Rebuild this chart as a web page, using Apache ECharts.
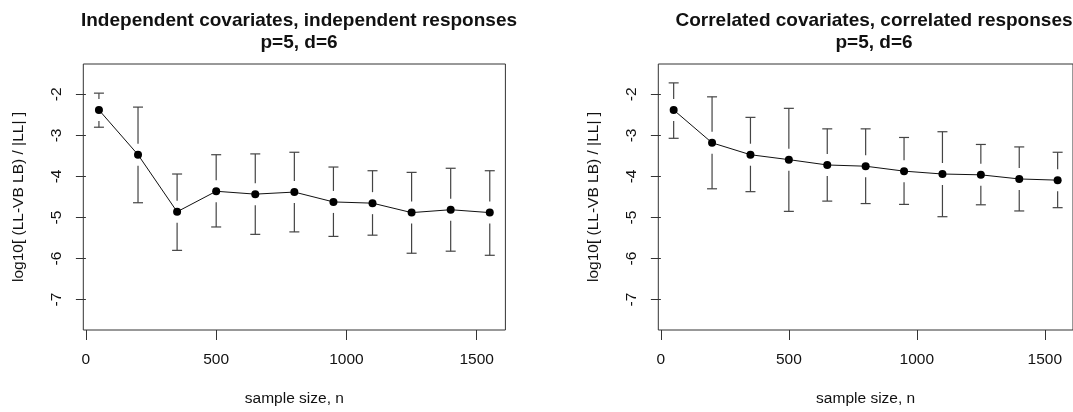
<!DOCTYPE html>
<html>
<head>
<meta charset="utf-8">
<script src="https://cdn.jsdelivr.net/npm/echarts@6/dist/echarts.min.js"></script>
<style>
  html, body { margin: 0; padding: 0; background: #fff; }
  #chart { width: 1073px; height: 412px; }
</style>
</head>
<body>
<div id="chart"></div>
<script>
// ---- data ----
const sampleSizes = [50, 200, 350, 500, 650, 800, 950, 1100, 1250, 1400, 1550];

const leftMean  = [-2.38, -3.47, -4.86, -4.36, -4.43, -4.38, -4.62, -4.65, -4.88, -4.81, -4.88];
const leftUpper = [-1.97, -2.31, -3.94, -3.47, -3.45, -3.41, -3.77, -3.86, -3.90, -3.80, -3.86];
const leftLower = [-2.80, -4.64, -5.80, -5.23, -5.41, -5.35, -5.46, -5.43, -5.87, -5.82, -5.92];

const rightMean  = [-2.38, -3.18, -3.47, -3.59, -3.72, -3.75, -3.87, -3.94, -3.96, -4.06, -4.09];
const rightUpper = [-1.72, -2.06, -2.56, -2.34, -2.84, -2.84, -3.05, -2.91, -3.22, -3.28, -3.41];
const rightLower = [-3.07, -4.30, -4.37, -4.85, -4.60, -4.66, -4.68, -4.98, -4.69, -4.84, -4.76];

const xTicks = [0, 500, 1000, 1500];
const yTicks = [-7, -6, -5, -4, -3, -2];

const titleLeft  = 'Independent covariates, independent responses\np=5, d=6';
const titleRight = 'Correlated covariates, correlated responses\np=5, d=6';
const xTitle = 'sample size, n';
const yTitle = 'log10[ (LL-VB LB) / |LL| ]';

// ---- chart ----
const FONT = '"Liberation Sans", Arial, Helvetica, sans-serif';
const AX_FS = 15.5;
const chart = echarts.init(document.getElementById('chart'), null, { renderer: 'canvas' });

function mkX(gi) {
  return {
    type: 'value', gridIndex: gi, min: -10, max: 1610,
    splitLine: { show: false },
    axisLine: { show: false },
    axisTick: { show: true, inside: false, length: 10, customValues: xTicks,
      lineStyle: { color: '#333', width: 1 } },
    axisLabel: { customValues: xTicks, margin: 22, fontSize: AX_FS, color: '#111', fontFamily: FONT,
      formatter: v => String(v) },
    name: xTitle, nameLocation: 'middle', nameGap: 61,
    nameTextStyle: { fontSize: AX_FS, color: '#111', fontFamily: FONT }
  };
}
function mkY(gi) {
  return {
    type: 'value', gridIndex: gi, min: -7.74, max: -1.26,
    splitLine: { show: false },
    axisLine: { show: false },
    axisTick: { show: true, inside: false, length: 10, customValues: yTicks,
      lineStyle: { color: '#333', width: 1 } },
    axisLabel: { customValues: yTicks, rotate: 90, margin: 19, fontSize: AX_FS, color: '#111',
      fontFamily: FONT, lineHeight: 15, formatter: v => String(v) },
    name: yTitle, nameLocation: 'middle', nameGap: 57, nameRotate: 90,
    nameTextStyle: { fontSize: AX_FS, color: '#111', fontFamily: FONT, lineHeight: 15 }
  };
}

function errData(lo, hi, mean) {
  return sampleSizes.map((x, i) => [x, lo[i], hi[i], mean[i]]);
}
function renderErr(params, api) {
  const x = api.value(0);
  const pLo = api.coord([x, api.value(1)]);
  const pHi = api.coord([x, api.value(2)]);
  const pM  = api.coord([x, api.value(3)]);
  const gap = 11, cap = 5;
  const style = { stroke: '#444', lineWidth: 1.2 };
  const children = [];
  children.push({ type: 'line', shape: { x1: pHi[0] - cap, y1: pHi[1], x2: pHi[0] + cap, y2: pHi[1] }, style });
  children.push({ type: 'line', shape: { x1: pLo[0] - cap, y1: pLo[1], x2: pLo[0] + cap, y2: pLo[1] }, style });
  if (pM[1] - gap > pHi[1]) {
    children.push({ type: 'line', shape: { x1: pHi[0], y1: pHi[1], x2: pM[0], y2: pM[1] - gap }, style });
  }
  if (pM[1] + gap < pLo[1]) {
    children.push({ type: 'line', shape: { x1: pM[0], y1: pM[1] + gap, x2: pLo[0], y2: pLo[1] }, style });
  }
  return { type: 'group', children };
}

function lineSeries(gi, mean) {
  return {
    type: 'line', xAxisIndex: gi, yAxisIndex: gi,
    data: sampleSizes.map((x, i) => [x, mean[i]]),
    symbol: 'circle', symbolSize: 8, showSymbol: true,
    itemStyle: { color: '#000' },
    lineStyle: { color: '#111', width: 1 },
    emphasis: { disabled: true }, silent: true, animation: false, z: 3
  };
}
function errSeries(gi, lo, hi, mean) {
  return {
    type: 'custom', xAxisIndex: gi, yAxisIndex: gi,
    data: errData(lo, hi, mean), renderItem: renderErr,
    silent: true, animation: false, z: 2, clip: false
  };
}

const titleStyle = { fontSize: 19, fontWeight: 'bold', color: '#111', fontFamily: FONT, lineHeight: 22 };
const option = {
  backgroundColor: '#fff',
  animation: false,
  title: [
    { text: titleLeft, left: 294, top: 5, textAlign: 'center', textStyle: titleStyle },
    { text: titleRight, left: 869, top: 5, textAlign: 'center', textStyle: titleStyle }
  ],
  grid: [
    { left: 83.3, top: 64, width: 422.1, height: 271, show: true, borderColor: '#333', borderWidth: 1, backgroundColor: 'transparent' },
    { left: 658.3, top: 64, width: 422.1, height: 271, show: true, borderColor: '#333', borderWidth: 1, backgroundColor: 'transparent' }
  ],
  xAxis: [mkX(0), mkX(1)],
  yAxis: [mkY(0), mkY(1)],
  series: [
    errSeries(0, leftLower, leftUpper, leftMean),
    lineSeries(0, leftMean),
    errSeries(1, rightLower, rightUpper, rightMean),
    lineSeries(1, rightMean)
  ]
};
chart.setOption(option);
</script>
</body>
</html>
